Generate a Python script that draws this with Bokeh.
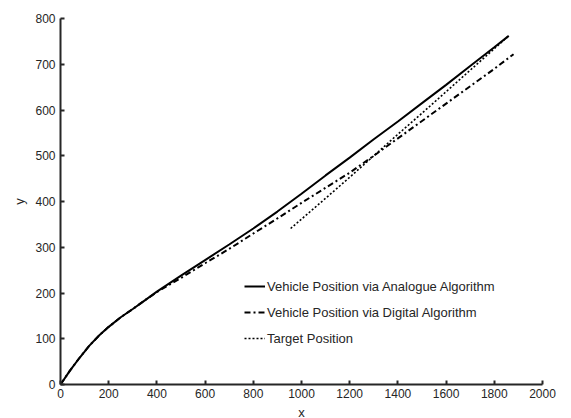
from bokeh.plotting import figure
from bokeh.models import Range1d, Legend, LegendItem, FixedTicker
from bokeh.embed import file_html
from bokeh.resources import INLINE

# Vehicle position via analogue algorithm
analog_x = [0, 40, 80, 120, 160, 200, 250, 300, 350, 400, 500, 600, 700, 800, 900,
            1000, 1100, 1200, 1300, 1400, 1500, 1600, 1700, 1800, 1860]
analog_y = [0, 31, 59, 85, 107, 126, 147, 165, 184, 203, 238, 272, 306, 341, 378,
            417, 457, 496, 536, 575, 615, 655, 696, 737, 762]

# Vehicle position via digital algorithm
digital_x = [0, 40, 80, 120, 160, 200, 250, 300, 350, 400, 500, 600, 708, 800, 900,
             1000, 1100, 1200, 1300, 1400, 1500, 1600, 1700, 1800, 1880]
digital_y = [0, 31, 59, 85, 107, 126, 147, 165, 184, 202, 233, 265, 299, 330, 363,
             397, 430, 463, 500, 538, 576, 614, 652, 690, 722]

# Target position
target_x = [955, 1100, 1200, 1300, 1400, 1500, 1600, 1700, 1800, 1855]
target_y = [341, 407, 453, 500, 547, 593, 640, 687, 734, 760]

x_ticks = [0, 200, 400, 600, 800, 1000, 1200, 1400, 1600, 1800, 2000]
y_ticks = [0, 100, 200, 300, 400, 500, 600, 700, 800]

FONT = "Liberation Sans"
TXT = "#262626"

p = figure(frame_width=482, frame_height=366, output_backend="svg",
           toolbar_location=None, x_range=Range1d(0, 2000), y_range=Range1d(0, 800),
           min_border_left=60, min_border_top=18, min_border_right=29, min_border_bottom=34)
p.outline_line_color = None
p.grid.visible = False
p.background_fill_color = "white"
p.border_fill_color = "white"

r1 = p.line(analog_x, analog_y, line_color="black", line_width=2)
r2 = p.line(digital_x, digital_y, line_color="black", line_width=2, line_dash="6 3 2 3")
r3 = p.line(target_x, target_y, line_color="black", line_width=1.6, line_dash="2 2")

for ax, ticks in ((p.xaxis[0], x_ticks), (p.yaxis[0], y_ticks)):
    ax.ticker = FixedTicker(ticks=ticks)
    ax.minor_tick_line_color = None
    ax.major_tick_in = 4
    ax.major_tick_out = 0
    ax.major_tick_line_width = 2
    ax.major_tick_line_color = TXT
    ax.axis_line_width = 2
    ax.axis_line_color = TXT
    ax.major_label_text_font = FONT
    ax.major_label_text_font_size = "12px"
    ax.major_label_text_color = TXT
    ax.axis_label_text_font = FONT
    ax.axis_label_text_font_size = "13px"
    ax.axis_label_text_font_style = "normal"
    ax.axis_label_text_color = TXT

p.xaxis.axis_label = "x"
p.yaxis.axis_label = "y"
p.xaxis.major_label_standoff = 4
p.yaxis.major_label_standoff = 5
p.yaxis.axis_label_standoff = 5
p.xaxis.axis_label_standoff = 4

legend = Legend(items=[
    LegendItem(label="Vehicle Position via Analogue Algorithm", renderers=[r1]),
    LegendItem(label="Vehicle Position via Digital Algorithm", renderers=[r2]),
    LegendItem(label="Target Position", renderers=[r3]),
], location=(184, 36))
legend.border_line_color = None
legend.background_fill_alpha = 0
legend.label_text_font = FONT
legend.label_text_font_size = "13px"
legend.label_text_color = TXT
legend.glyph_width = 21
legend.label_standoff = 2
legend.spacing = 6
legend.padding = 5
legend.margin = 0
p.add_layout(legend)

open("out.html", "w").write(file_html(p, INLINE))
